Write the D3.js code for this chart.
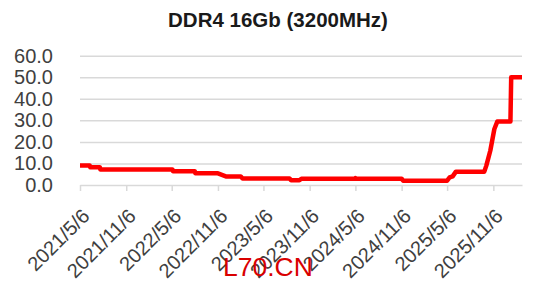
<!DOCTYPE html>
<html>
<head>
<meta charset="utf-8">
<script src="https://cdn.jsdelivr.net/npm/d3@7"></script>
<style>
  body { margin: 0; background: #fff; }
  svg { font-family: "Liberation Sans", Arial, sans-serif; }
</style>
</head>
<body>
<svg id="chart"></svg>
<script>
var w = 538,
    h = 287;

var title = "DDR4 16Gb (3200MHz)";
var watermark = "L70.CN";

// price series (USD)
var dates = ["2021-05-06", "2021-06-14", "2021-06-16", "2021-07-24", "2021-07-26",
  "2022-05-09", "2022-05-11", "2022-08-06", "2022-08-08", "2022-11-06",
  "2022-12-10", "2023-02-05", "2023-02-12", "2023-08-18", "2023-08-24",
  "2023-09-26", "2023-10-04", "2024-05-04", "2024-05-06", "2024-05-08",
  "2024-11-06", "2024-11-12", "2025-05-06", "2025-05-16", "2025-05-28",
  "2025-06-10", "2025-10-01", "2025-10-09", "2025-10-17", "2025-10-25",
  "2025-11-02", "2025-11-10", "2025-11-22", "2026-01-13", "2026-01-16",
  "2026-02-28"];
var prices = [9.0, 9.0, 8.2, 8.2, 7.2,
  7.2, 6.4, 6.4, 5.4, 5.4,
  3.9, 3.9, 3.0, 3.0, 2.2,
  2.2, 2.9, 2.9, 3.2, 2.9,
  2.9, 2.0, 2.0, 3.5, 4.0,
  6.2, 6.2, 9.0, 12.5, 16.0,
  21.0, 26.0, 29.5, 29.5, 50.0,
  50.0];

var xTickDates = ["2021-05-06", "2021-11-06", "2022-05-06", "2022-11-06", "2023-05-06",
  "2023-11-06", "2024-05-06", "2024-11-06", "2025-05-06", "2025-11-06"];
var yTicks = [0, 10, 20, 30, 40, 50, 60];

var parse = d3.utcParse("%Y-%m-%d");
var data = dates.map(function(d, i) { return { date: parse(d), value: prices[i] }; });

var x = d3.scaleUtc()
  .domain([parse("2021-05-06"), parse("2026-02-28")])
  .range([80, 522]);
var y = d3.scaleLinear()
  .domain([0, 60])
  .range([185, 55.7]);

var svg = d3.select("#chart")
  .attr("width", w)
  .attr("height", h);

svg.append("text")
  .attr("x", 278)
  .attr("y", 27)
  .attr("text-anchor", "middle")
  .style("font-size", "20.5px")
  .style("font-weight", "bold")
  .style("fill", "#1a1a1a")
  .text(title);

// gridlines
svg.append("g")
  .attr("transform", "translate(80,0)")
  .call(d3.axisLeft(y).tickValues(yTicks.slice(1)).tickSize(-442).tickFormat(""))
  .call(function(g) {
    g.select(".domain").remove();
    g.selectAll("line").attr("stroke", "#d9d9d9").attr("stroke-width", 1.5);
  });

// y labels
svg.append("g")
  .attr("transform", "translate(80,0)")
  .call(d3.axisLeft(y).tickValues(yTicks).tickSize(0).tickPadding(27).tickFormat(d3.format(".1f")))
  .call(function(g) {
    g.select(".domain").remove();
    g.selectAll("text")
      .style("font-size", "20px")
      .style("font-family", "Liberation Sans, Arial, sans-serif")
      .attr("fill", "#404040");
  });

// x axis
var fmt = function(d) {
  return d.getUTCFullYear() + "/" + (d.getUTCMonth() + 1) + "/" + d.getUTCDate();
};
svg.append("g")
  .attr("transform", "translate(0,185)")
  .call(d3.axisBottom(x).tickValues(xTickDates.map(parse)).tickSize(6).tickSizeOuter(0).tickFormat(fmt))
  .call(function(g) {
    g.select(".domain").attr("stroke", "#d9d9d9").attr("stroke-width", 1.5);
    g.selectAll(".tick line").attr("stroke", "#d9d9d9").attr("stroke-width", 1.5);
    g.selectAll("text")
      .style("font-size", "20px")
      .style("font-family", "Liberation Sans, Arial, sans-serif")
      .attr("fill", "#404040")
      .attr("text-anchor", "end")
      .attr("dy", "0.35em")
      .attr("transform", "translate(-1,21) rotate(-45)");
  });

var line = d3.line()
  .x(function(d) { return x(d.date); })
  .y(function(d) { return y(d.value); });

svg.append("path")
  .datum(data)
  .attr("d", line)
  .attr("fill", "none")
  .attr("stroke", "#ff0000")
  .attr("stroke-width", 4.5)
  .attr("stroke-linejoin", "round");

svg.append("text")
  .attr("x", 223)
  .attr("y", 276)
  .style("font-size", "26.5px")
  .style("fill", "#d90000")
  .text(watermark);
</script>
</body>
</html>
